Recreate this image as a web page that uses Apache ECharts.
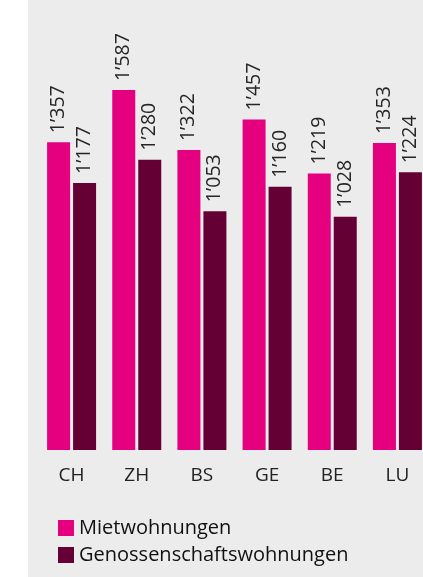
<!DOCTYPE html>
<html>
<head>
<meta charset="utf-8">
<script src="https://cdn.jsdelivr.net/npm/echarts@6/dist/echarts.min.js"></script>
<style>
html,body{margin:0;padding:0;background:#fff;overflow:hidden;width:423px;height:577px;}
#bg{position:absolute;left:28px;top:0;width:395px;height:577px;background:#ececec;}
#chart{position:absolute;left:0;top:0;width:440px;height:577px;}
</style>
</head>
<body>
<div id="bg"></div>
<div id="chart"></div>
<script>
var categories = ['CH', 'ZH', 'BS', 'GE', 'BE', 'LU'];
var mietwohnungen = [1357, 1587, 1322, 1457, 1219, 1353];
var genossenschaftswohnungen = [1177, 1280, 1053, 1160, 1028, 1224];
var seriesNames = ['Mietwohnungen', 'Genossenschaftswohnungen'];

function fmt(v) {
  var s = String(v);
  return s.replace(/\B(?=(\d{3})+(?!\d))/g, '\u2019');
}

var FONT = '"Open Sans", "Noto Sans", sans-serif';
var chart = echarts.init(document.getElementById('chart'), null, {renderer: 'canvas'});
function labelCfg() {
  return {
    show: true,
    position: 'top',
    rotate: 90,
    align: 'left',
    verticalAlign: 'middle',
    distance: 9,
    color: '#262626',
    fontFamily: FONT,
    fontSize: 19.5,
    formatter: function (p) { return fmt(p.value); }
  };
}
chart.setOption({
  backgroundColor: 'transparent',
  animation: false,
  grid: {left: 39, right: 10, top: 19, bottom: 127, containLabel: false},
  legend: {
    orient: 'vertical',
    left: 58,
    top: 518,
    itemWidth: 16,
    itemHeight: 16,
    itemGap: 7,
    icon: 'rect',
    padding: 0,
    textStyle: {fontFamily: FONT, fontSize: 20, color: '#111'},
    data: seriesNames
  },
  xAxis: {
    type: 'category',
    data: categories,
    axisLine: {show: false},
    axisTick: {show: false},
    axisLabel: {fontFamily: FONT, fontSize: 19, color: '#222', margin: 16}
  },
  yAxis: {
    type: 'value',
    min: 0,
    max: 1900,
    show: false,
    splitLine: {show: false}
  },
  series: [
    {name: seriesNames[0], type: 'bar', data: mietwohnungen, barWidth: 23, barGap: '13%',
     itemStyle: {color: '#e4007e'}, label: labelCfg()},
    {name: seriesNames[1], type: 'bar', data: genossenschaftswohnungen, barWidth: 23, barGap: '13%',
     itemStyle: {color: '#640033'}, label: labelCfg()}
  ]
});
</script>
</body>
</html>
